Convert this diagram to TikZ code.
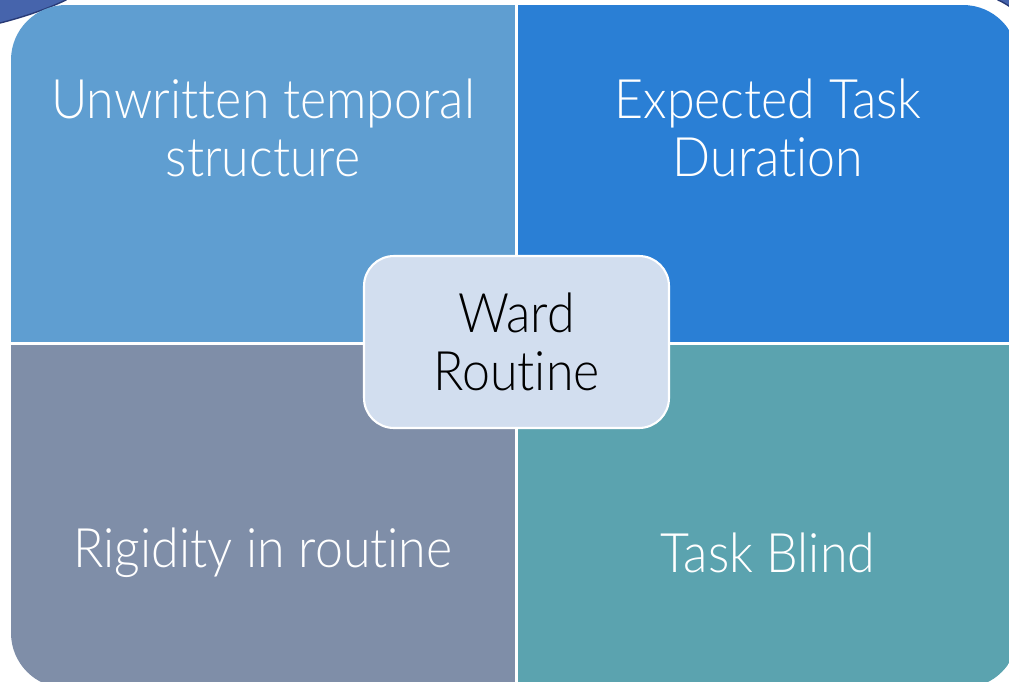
\documentclass[tikz,border=0pt]{standalone}
\usepackage{fontspec}
\setmainfont{Lato}[UprightFont = * Light, FakeStretch = 0.92, Ligatures = NoCommon]

\definecolor{quadTL}{RGB}{95,158,209}
\definecolor{quadTR}{RGB}{42,127,213}
\definecolor{quadBL}{RGB}{127,142,168}
\definecolor{quadBR}{RGB}{91,163,175}
\definecolor{wardfill}{RGB}{210,222,239}
\definecolor{slideblue}{RGB}{70,100,172}
\definecolor{slideedge}{RGB}{40,58,118}

\begin{document}
\begin{tikzpicture}[x = 0.02 cm, y = -0.02 cm,
	quadtext/.style = {align = center, text = white, font = \fontsize{31}{33}\selectfont}]

	\useasboundingbox (0, 0) rectangle (1009, 681);

	% Slide behind
	
	\filldraw [fill = slideblue, draw = slideedge, line width = 0.8pt] (-5, -5) -- (66, -5) -- (66, 0) .. controls (45, 10) and (20, 18) .. (0, 23) -- (-5, 23) -- cycle;
	\filldraw [fill = slideblue, draw = slideedge, line width = 0.8pt] (998, -5) -- (1015, -5) -- (1015, 10) .. controls (1009, 6) and (1003, 2) .. (998, 0) -- cycle;

	% Quadrants
	
	\begin{scope}
		\clip [rounded corners = 1.1 cm] (11, 5) rectangle (1018, 688);
		\fill [quadTL] (11, 5) rectangle (515, 342);
		\fill [quadTR] (518, 5) rectangle (1018, 342);
		\fill [quadBL] (11, 345) rectangle (515, 688);
		\fill [quadBR] (518, 345) rectangle (1018, 688);
	\end{scope}
	
	% Labels
	
	\node [quadtext] (unwritten) at (263, 128) {Unwritten temporal\\structure};
	\node [quadtext] (expected) at (768, 128) {Expected Task\\Duration};
	\node [quadtext] (rigidity) at (263, 553) {Rigidity in routine};
	\node [quadtext] (blind) at (768, 553) {Task Blind};
	
	% Centre box
	
	\node [rectangle, rounded corners = 0.6 cm, fill = wardfill, draw = white, line width = 1.2pt,
		minimum width = 6.1 cm, minimum height = 3.44 cm, align = center,
		font = \fontsize{31}{33}\selectfont] (ward) at (516.5, 342) {Ward\\Routine};

\end{tikzpicture}
\end{document}
